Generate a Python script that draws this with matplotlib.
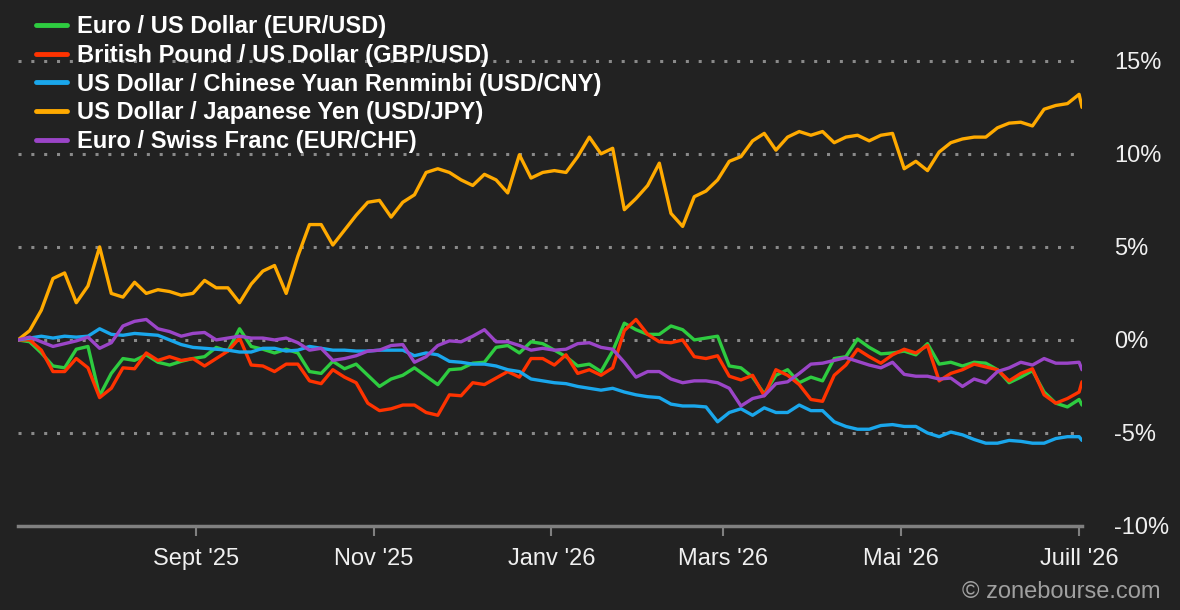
import matplotlib
matplotlib.use("Agg")
import matplotlib.pyplot as plt
import pandas as pd

# ---------------- data ----------------
dates = list(pd.date_range("2025-07-02", periods=92, freq="4D")) + [pd.Timestamp("2026-07-02")]

eur_usd = [0.0, -0.1, -0.7, -1.4, -1.5, -0.5, -0.35, -3.0, -1.8, -1.0,
           -1.1, -0.8, -1.2, -1.35, -1.15, -1.0, -0.9, -0.4, -0.6, 0.6,
           -0.35, -0.5, -0.7, -0.5, -0.7, -1.7, -1.8, -1.15, -1.55, -1.3,
           -1.9, -2.5, -2.1, -1.9, -1.5, -1.95, -2.4, -1.6, -1.55, -1.25,
           -1.2, -0.4, -0.3, -0.7, -0.1, -0.2, -0.55, -0.9, -1.4, -1.3,
           -1.7, -0.6, 0.9, 0.55, 0.3, 0.3, 0.75, 0.55, 0.0, 0.1,
           0.2, -1.4, -1.5, -2.0, -2.9, -1.9, -1.6, -2.3, -2.0, -2.2,
           -1.0, -0.9, 0.05, -0.4, -0.75, -0.7, -0.6, -0.8, -0.2, -1.3,
           -1.2, -1.4, -1.2, -1.25, -1.6, -2.3, -2.0, -1.65, -2.8, -3.4,
           -3.6, -3.2, -3.5]

gbp_usd = [0.0, 0.0, -0.55, -1.7, -1.7, -1.0, -1.5, -3.1, -2.6, -1.5,
           -1.55, -0.7, -1.1, -0.9, -1.1, -1.0, -1.4, -1.0, -0.6, 0.1,
           -1.35, -1.4, -1.7, -1.3, -1.3, -2.2, -2.35, -1.6, -2.0, -2.3,
           -3.4, -3.8, -3.7, -3.5, -3.5, -3.9, -4.05, -2.95, -3.0, -2.3,
           -2.4, -2.05, -1.7, -2.0, -1.0, -1.0, -1.35, -0.8, -1.8, -1.6,
           -1.9, -1.5, 0.5, 1.1, 0.3, -0.1, -0.15, 0.0, -0.9, -1.0,
           -0.85, -1.95, -2.15, -1.9, -3.0, -1.6, -1.9, -2.4, -3.2, -3.3,
           -1.9, -1.35, -0.5, -0.9, -1.25, -0.8, -0.5, -0.7, -0.3, -2.2,
           -1.8, -1.6, -1.3, -1.45, -1.6, -2.2, -1.8, -1.55, -2.95, -3.4,
           -3.15, -2.8, -2.25]

usd_cny = [0.0, 0.1, 0.2, 0.1, 0.2, 0.15, 0.2, 0.6, 0.3, 0.25,
           0.35, 0.3, 0.25, 0.0, -0.25, -0.4, -0.45, -0.5, -0.55, -0.65,
           -0.65, -0.45, -0.45, -0.6, -0.55, -0.35, -0.45, -0.55, -0.55, -0.6,
           -0.6, -0.55, -0.55, -0.55, -0.85, -0.7, -0.8, -1.15, -1.2, -1.3,
           -1.3, -1.4, -1.6, -1.7, -2.1, -2.2, -2.3, -2.35, -2.5, -2.6,
           -2.7, -2.6, -2.8, -2.95, -3.05, -3.1, -3.45, -3.55, -3.55, -3.6,
           -4.4, -3.9, -3.7, -4.05, -3.65, -3.9, -3.9, -3.5, -3.8, -3.8,
           -4.4, -4.65, -4.8, -4.8, -4.6, -4.55, -4.65, -4.65, -5.0, -5.2,
           -4.95, -5.1, -5.35, -5.55, -5.55, -5.4, -5.45, -5.55, -5.55, -5.3,
           -5.2, -5.2, -5.4]

usd_jpy = [0.0, 0.5, 1.6, 3.3, 3.6, 2.0, 2.9, 5.0, 2.5, 2.3,
           3.1, 2.5, 2.7, 2.6, 2.4, 2.5, 3.2, 2.8, 2.8, 2.0,
           3.0, 3.7, 4.0, 2.5, 4.5, 6.2, 6.2, 5.1, 5.9, 6.7,
           7.4, 7.5, 6.6, 7.4, 7.8, 9.0, 9.2, 9.0, 8.6, 8.3,
           8.9, 8.6, 7.9, 9.95, 8.7, 9.0, 9.1, 9.0, 9.85, 10.9,
           10.0, 10.3, 7.0, 7.6, 8.3, 9.5, 6.8, 6.1, 7.7, 8.0,
           8.6, 9.6, 9.85, 10.7, 11.1, 10.2, 10.9, 11.2, 11.0, 11.2,
           10.6, 10.9, 11.0, 10.7, 11.0, 11.1, 9.2, 9.6, 9.1, 10.1,
           10.6, 10.8, 10.9, 10.9, 11.4, 11.65, 11.7, 11.5, 12.4, 12.6,
           12.7, 13.2, 12.5]

eur_chf = [0.0, 0.15, -0.1, -0.35, -0.2, -0.05, 0.15, -0.45, -0.15, 0.75,
           1.0, 1.1, 0.6, 0.45, 0.2, 0.35, 0.4, 0.0, 0.1, 0.2,
           0.1, 0.1, 0.0, 0.1, -0.15, -0.55, -0.45, -1.1, -1.0, -0.85,
           -0.6, -0.55, -0.3, -0.25, -1.2, -0.9, -0.3, -0.05, -0.1, 0.2,
           0.55, -0.1, -0.1, -0.3, -0.55, -0.45, -0.55, -0.5, -0.2, -0.15,
           -0.4, -0.5, -1.2, -2.0, -1.7, -1.7, -2.1, -2.3, -2.2, -2.2,
           -2.3, -2.6, -3.55, -3.15, -3.0, -2.35, -2.25, -1.8, -1.3, -1.25,
           -1.1, -0.95, -1.15, -1.35, -1.5, -1.2, -1.85, -1.95, -1.95, -2.1,
           -2.05, -2.5, -2.1, -2.3, -1.7, -1.5, -1.2, -1.35, -1.0, -1.25,
           -1.25, -1.2, -1.6]

series_labels = ["Euro / US Dollar (EUR/USD)",
                 "British Pound / US Dollar (GBP/USD)",
                 "US Dollar / Chinese Yuan Renminbi (USD/CNY)",
                 "US Dollar / Japanese Yen (USD/JPY)",
                 "Euro / Swiss Franc (EUR/CHF)"]
series_colors = ["#2ecc40", "#ff3300", "#1aa7ec", "#ffaa00", "#9b45c8"]

tick_dates = ["2025-09-01", "2025-11-01", "2026-01-01", "2026-03-01", "2026-05-01", "2026-07-01"]
tick_labels = ["Sept '25", "Nov '25", "Janv '26", "Mars '26", "Mai '26", "Juill '26"]
y_ticks = [15, 10, 5, 0, -5, -10]

# ---------------- figure ----------------
BG = "#222222"
plt.rcParams['font.family'] = ['Liberation Sans', 'DejaVu Sans']
W, H = 1180, 610
fig = plt.figure(figsize=(W / 100, H / 100), dpi=100, facecolor=BG)
ax = fig.add_axes([18 / W, 1 - 526 / H, 1064 / W, 521 / H], facecolor=BG)

all_series = [eur_usd, gbp_usd, usd_cny, usd_jpy, eur_chf]
for vals, lab, col in zip(all_series, series_labels, series_colors):
    ax.plot(dates, vals, color=col, lw=2.4, label=lab, solid_joinstyle="round",
            solid_capstyle="round", zorder=3)

ax.set_xlim(pd.Timestamp("2025-07-02"), pd.Timestamp("2026-07-02"))
ax.set_ylim(-10, 18)

# grid lines (dotted)
for yv in y_ticks[:-1]:
    ax.axhline(yv, color="#8a8a8a", lw=2.2, linestyle=(0, (1, 3.2)), zorder=1)

for s in ["top", "right", "left"]:
    ax.spines[s].set_visible(False)
ax.spines["bottom"].set_color("#808080")
ax.spines["bottom"].set_linewidth(2.5)

ax.set_xticks([pd.Timestamp(d) for d in tick_dates])
ax.set_xticklabels(tick_labels)
ax.tick_params(axis="x", colors="#808080", length=7, width=1.5, direction="out",
               labelcolor="#f0f0f0", labelsize=17, pad=9)

ax.set_yticks(y_ticks)
ax.set_yticklabels([f"{v}%" for v in y_ticks])
ax.yaxis.tick_right()
ax.tick_params(axis="y", length=0, labelcolor="#f0f0f0", labelsize=17, pad=23)
for t in ax.get_yticklabels():
    t.set_horizontalalignment("left")

leg = ax.legend(loc="upper left", bbox_to_anchor=(36 / W, 1 - 15 / H),
                bbox_transform=fig.transFigure, frameon=False,
                prop={"weight": "bold", "size": 17}, labelcolor="#ffffff",
                handlelength=1.3, handletextpad=0.42, labelspacing=0.245,
                borderpad=0, borderaxespad=0)
for lh in leg.get_lines():
    lh.set_linewidth(3.5)

fig.text(1160 / W, 1 - 592 / H, "© zonebourse.com", color="#a0a0a0",
         fontsize=17, ha="right", va="center")

fig.savefig("out.png", dpi=100, facecolor=BG)
